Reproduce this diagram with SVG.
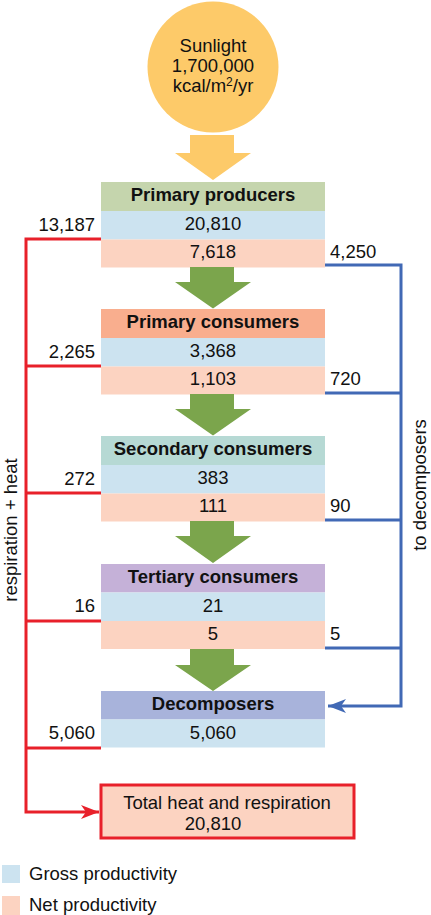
<svg xmlns="http://www.w3.org/2000/svg" width="431" height="915" viewBox="0 0 431 915">
<defs>
<style>
text{font-family:"Liberation Sans",Arial,sans-serif;font-size:18.5px;fill:#111}
.b{font-weight:bold}
.c{text-anchor:middle}
.r{text-anchor:end}
.gross{fill:#cce3f0}
.net{fill:#fcd3c1}
.garrow{fill:#7ba54c}
.red{stroke:#e8202a;stroke-width:3;fill:none}
.blue{stroke:#4169b5;stroke-width:3;fill:none}
</style>
<marker id="ar" markerUnits="userSpaceOnUse" markerWidth="20" markerHeight="16" refX="18" refY="8" orient="auto"><path d="M0,1 L18,8 L0,15 L5,8 Z" fill="#e8202a"/></marker>
<marker id="ab" markerUnits="userSpaceOnUse" markerWidth="20" markerHeight="16" refX="18" refY="8" orient="auto"><path d="M0,1 L18,8 L0,15 L5,8 Z" fill="#4169b5"/></marker>
</defs>
<rect width="431" height="915" fill="#fff"/>

<g id="sunlight">
<circle cx="213" cy="67" r="65.5" fill="#fdca69"/>
<text class="c" x="213" y="52">Sunlight</text>
<text class="c" x="213" y="72">1,700,000</text>
<text class="c" x="213" y="92">kcal/m<tspan dy="-6" font-size="12">2</tspan><tspan dy="6">/yr</tspan></text>
<path d="M190,135 H234 V153 H251 L213,180 L175,153 H190 Z" fill="#fdca69"/>
</g>

<g id="connectors">
<path class="red" d="M101,239 H26 V812 H99" marker-end="url(#ar)"/>
<path class="red" d="M26,366 H101 M26,493 H101 M26,621 H101 M26,748 H101"/>
<path class="blue" d="M325,265 H401 V706 H328" marker-end="url(#ab)"/>
<path class="blue" d="M325,393 H401 M325,520 H401 M325,648 H401"/>
</g>

<g id="primary-producers">
<rect x="101" y="182" width="224" height="29" fill="#c5d5ad"/>
<rect class="gross" x="101" y="211" width="224" height="28.5"/>
<rect class="net" x="101" y="239.5" width="224" height="28"/>
<text class="c b" x="213" y="201">Primary producers</text>
<text class="c" x="213" y="230">20,810</text>
<text class="c" x="213" y="258">7,618</text>
<text class="r" x="95" y="231">13,187</text>
<text x="330" y="258">4,250</text>
<path class="garrow" d="M190,267 H234 V282 H251 L213,308.5 L175,282 H190 Z"/>
</g>

<g id="primary-consumers">
<rect x="101" y="309" width="224" height="29" fill="#f9ae8e"/>
<rect class="gross" x="101" y="338" width="224" height="28.5"/>
<rect class="net" x="101" y="366.5" width="224" height="28"/>
<text class="c b" x="213" y="328">Primary consumers</text>
<text class="c" x="213" y="357">3,368</text>
<text class="c" x="213" y="385">1,103</text>
<text class="r" x="95" y="358">2,265</text>
<text x="330" y="385">720</text>
<path class="garrow" d="M190,394 H234 V409 H251 L213,435.5 L175,409 H190 Z"/>
</g>

<g id="secondary-consumers">
<rect x="101" y="436" width="224" height="29" fill="#b6d9d4"/>
<rect class="gross" x="101" y="465" width="224" height="28.5"/>
<rect class="net" x="101" y="493.5" width="224" height="28"/>
<text class="c b" x="213" y="455">Secondary consumers</text>
<text class="c" x="213" y="484">383</text>
<text class="c" x="213" y="512">111</text>
<text class="r" x="95" y="485">272</text>
<text x="330" y="512">90</text>
<path class="garrow" d="M190,521 H234 V536 H251 L213,563 L175,536 H190 Z"/>
</g>

<g id="tertiary-consumers">
<rect x="101" y="564" width="224" height="28.5" fill="#c5b1d8"/>
<rect class="gross" x="101" y="592.5" width="224" height="28.5"/>
<rect class="net" x="101" y="621" width="224" height="28"/>
<text class="c b" x="213" y="583">Tertiary consumers</text>
<text class="c" x="213" y="612">21</text>
<text class="c" x="213" y="640">5</text>
<text class="r" x="95" y="612">16</text>
<text x="330" y="640">5</text>
<path class="garrow" d="M190,649 H234 V665 H251 L213,691 L175,665 H190 Z"/>
</g>

<g id="decomposers">
<rect x="101" y="691" width="224" height="28.5" fill="#a8b3db"/>
<rect class="gross" x="101" y="719.5" width="224" height="28"/>
<text class="c b" x="213" y="710">Decomposers</text>
<text class="c" x="213" y="739">5,060</text>
<text class="r" x="95" y="739">5,060</text>
</g>

<g id="total">
<rect x="101" y="785" width="253" height="53" fill="#fcd3c1" stroke="#e8202a" stroke-width="3"/>
<text class="c" x="227" y="809">Total heat and respiration</text>
<text class="c" x="213" y="830">20,810</text>
</g>

<g id="labels">
<text class="c" transform="translate(17,530) rotate(-90)">respiration + heat</text>
<text class="c" transform="translate(426,485) rotate(-90)">to decomposers</text>
</g>

<g id="legend">
<rect class="gross" x="2" y="865" width="18" height="18"/>
<text x="29" y="880">Gross productivity</text>
<rect class="net" x="2" y="896" width="18" height="19"/>
<text x="29" y="911">Net productivity</text>
</g>
</svg>
